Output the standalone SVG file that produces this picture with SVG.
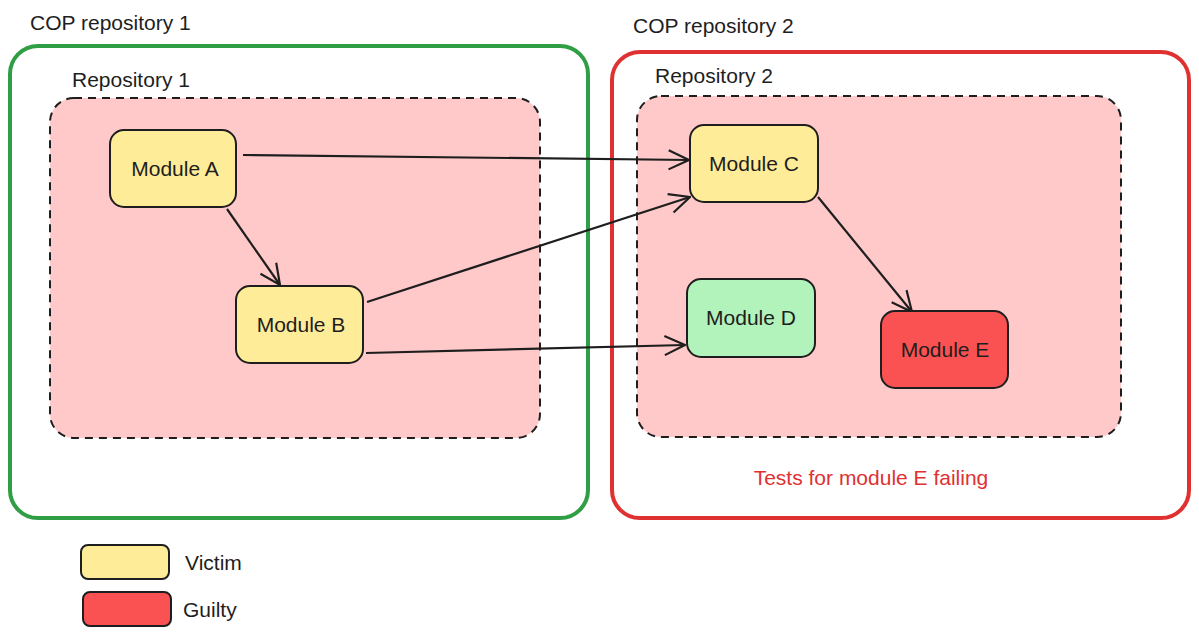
<svg xmlns="http://www.w3.org/2000/svg" width="1199" height="635" viewBox="0 0 1199 635">
<style>
text{font-family:"Liberation Sans",Arial,sans-serif;font-size:21px;fill:#1e1e1e}
.mod{stroke:#1e1e1e;stroke-width:2}
.yel{fill:#ffec99}
.grn{fill:#b2f2bb}
.red{fill:#fa5252}
.dash{fill:#ffc9c9;stroke:#1e1e1e;stroke-width:2;stroke-dasharray:8 6}
.conn{stroke:#1e1e1e;stroke-width:2.2;fill:none;marker-end:url(#arr)}
.c{text-anchor:middle}
</style>
<defs>
<marker id="arr" viewBox="0 0 20 20" refX="19" refY="10" markerWidth="24" markerHeight="24" markerUnits="userSpaceOnUse" orient="auto">
<path d="M2 2 L19 10 L2 18" fill="none" stroke="#1e1e1e" stroke-width="1.8"/>
</marker>
</defs>
<g id="cop1">
<rect x="10" y="46" width="578" height="472" rx="28" fill="none" stroke="#2f9e44" stroke-width="4"/>
<text x="30" y="30">COP repository 1</text>
</g>
<g id="cop2">
<rect x="612" y="52" width="577" height="466" rx="28" fill="none" stroke="#e03131" stroke-width="4"/>
<text x="633" y="33">COP repository 2</text>
</g>
<g id="repo1">
<rect class="dash" x="50" y="98" width="490" height="340" rx="24"/>
<text x="72" y="87">Repository 1</text>
</g>
<g id="repo2">
<rect class="dash" x="637" y="96" width="484" height="341" rx="24"/>
<text x="655" y="83">Repository 2</text>
</g>
<g id="connectors">
<path class="conn" d="M243 155 L689 160"/>
<path class="conn" d="M227 209 L280 285"/>
<path class="conn" d="M367 302 L690 197"/>
<path class="conn" d="M818 197 L912 312"/>
<path class="conn" d="M366 353 L685 345"/>
</g>
<g id="moduleA">
<rect class="mod yel" x="110" y="130" width="126" height="77" rx="14"/>
<text class="c" x="175" y="176">Module A</text>
</g>
<g id="moduleB">
<rect class="mod yel" x="236" y="286" width="127" height="77" rx="14"/>
<text class="c" x="301" y="332">Module B</text>
</g>
<g id="moduleC">
<rect class="mod yel" x="690" y="125" width="128" height="77" rx="14"/>
<text class="c" x="754" y="171">Module C</text>
</g>
<g id="moduleD">
<rect class="mod grn" x="687" y="279" width="128" height="78" rx="14"/>
<text class="c" x="751" y="325">Module D</text>
</g>
<g id="moduleE">
<rect class="mod red" x="881" y="311" width="127" height="77" rx="14"/>
<text class="c" x="945" y="357">Module E</text>
</g>
<g id="note">
<text class="c" x="871" y="485" style="fill:#e03131">Tests for module E failing</text>
</g>
<g id="legend-victim">
<rect class="mod yel" x="81" y="545" width="88" height="34" rx="7"/>
<text x="185" y="570">Victim</text>
</g>
<g id="legend-guilty">
<rect class="mod red" x="83" y="592" width="88" height="34" rx="7"/>
<text x="183" y="617">Guilty</text>
</g>
</svg>
